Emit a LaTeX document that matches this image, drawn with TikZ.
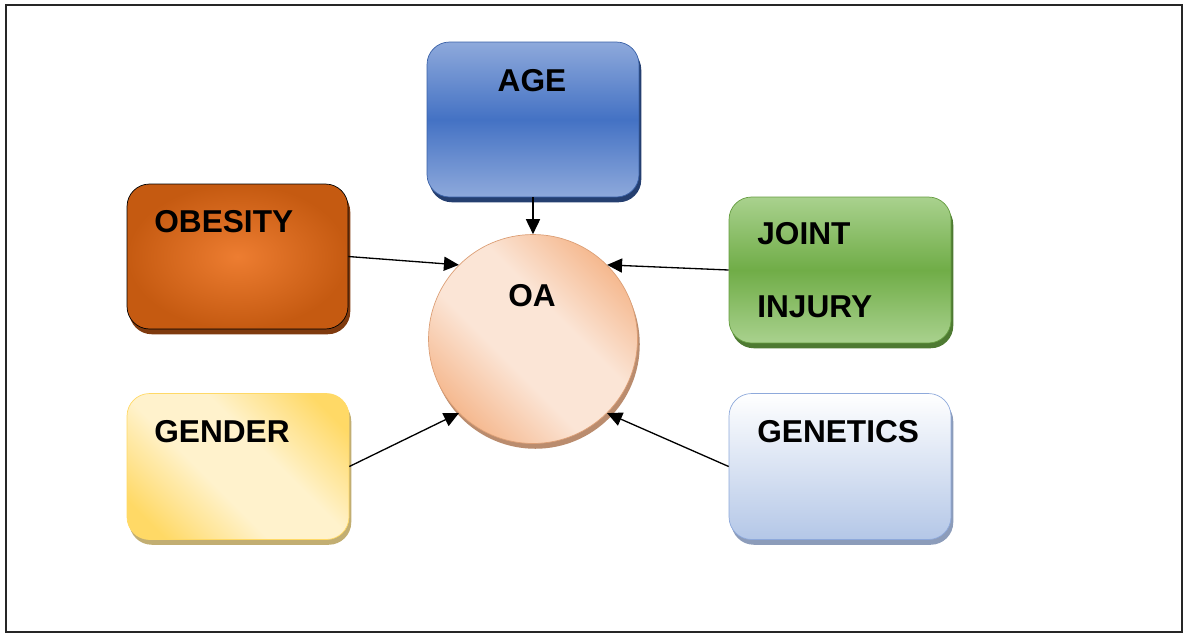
\documentclass[tikz,border=0pt]{standalone}
\usepackage{fontspec}
\setmainfont{Liberation Sans}
\usetikzlibrary{arrows.meta,shadows}

% colours of the factor boxes
\definecolor{ageMid}{HTML}{4472C4}
\definecolor{ageLight}{HTML}{8EA9DB}
\definecolor{ageShadow}{HTML}{253F70}
\definecolor{obeInner}{HTML}{ED7D31}
\definecolor{obeOuter}{HTML}{C55A11}
\definecolor{obeShadow}{HTML}{7F3A0E}
\definecolor{jointMid}{HTML}{70AD47}
\definecolor{jointLight}{HTML}{A9D18E}
\definecolor{jointShadow}{HTML}{4E7A32}
\definecolor{genYellow}{HTML}{FFD966}
\definecolor{genLight}{HTML}{FFF2CC}
\definecolor{genShadow}{HTML}{C2AE72}
\definecolor{geneBlue}{HTML}{B4C7E7}
\definecolor{geneShadow}{HTML}{8C9CBA}
\definecolor{oaDark}{HTML}{F4B183}
\definecolor{oaLight}{HTML}{FBE5D6}
\definecolor{oaShadow}{HTML}{BA8C6E}

% broad light band across the middle
\pgfdeclareverticalshading{oaband}{100bp}{color(0bp)=(oaDark); color(22bp)=(oaDark); color(42bp)=(oaLight); color(58bp)=(oaLight); color(78bp)=(oaDark); color(100bp)=(oaDark)}
\pgfdeclareverticalshading{genband}{100bp}{color(0bp)=(genYellow); color(22bp)=(genYellow); color(42bp)=(genLight); color(58bp)=(genLight); color(78bp)=(genYellow); color(100bp)=(genYellow)}

\tikzset{
  factor/.style={rounded corners=0.45cm, minimum width=4.44cm, minimum height=2.92cm, inner sep=0pt},
  lbl/.style={anchor=base west, inner sep=0pt, font=\fontsize{18}{21}\selectfont\bfseries},
  link/.style={-{Triangle[length=8.5pt,width=8pt]}, line width=0.75pt},
  shade/.style={drop shadow={shadow xshift=1.3pt, shadow yshift=-3pt, opacity=1, fill=#1}},
}

\begin{document}
\begin{tikzpicture}[x=0.02cm, y=-0.02cm]
\useasboundingbox (0,0) rectangle (1186,637);
\draw[line width=1pt, black!85] (6,5) rectangle (1182,632);

% the five factors
\node[factor, minimum width=4.24cm, minimum height=3.1cm, top color=ageLight, bottom color=ageLight, middle color=ageMid, draw=ageMid!85!black, shade=ageShadow] (age) at (533,119.5) {};
\node[factor, minimum width=4.42cm, minimum height=2.9cm, inner color=obeInner, outer color=obeOuter, draw=black, shade=obeShadow] (obesity) at (237.5,256.5) {};
\node[factor, top color=jointLight, bottom color=jointLight, middle color=jointMid, draw=jointMid!90!black, shade=jointShadow] (joint) at (840,270) {};
\node[factor, shading=genband, shading angle=-45, draw=genYellow, shade=genShadow] (gender) at (238,466.5) {};
\node[factor, top color=white, bottom color=geneBlue, draw=ageLight, shade=geneShadow] (genetics) at (840,466.5) {};

% the disease in the middle
\node[circle, minimum size=4.18cm, inner sep=0pt, shading=oaband, shading angle=-45, draw=oaDark!90!black, shade=oaShadow] (oa) at (533,339) {};

% labels
\node[lbl, anchor=base] (ageText) at (532,91) {AGE};
\node[lbl] (obesityText) at (154,232) {OBESITY};
\node[lbl] (jointText) at (757,244) {JOINT};
\node[lbl] (injuryText) at (757,317) {INJURY};
\node[lbl] (genderText) at (154,442) {GENDER};
\node[lbl] (geneticsText) at (757,442) {GENETICS};
\node[lbl, anchor=base] (oaText) at (532,306) {OA};

% arrows into OA
\draw[link] (age.south) -- (oa.north);
\draw[link] (obesity.east) -- (oa.135);
\draw[link] (joint.west) -- (oa.45);
\draw[link] (gender.east) -- (oa.225);
\draw[link] (genetics.west) -- (oa.-45);
\end{tikzpicture}
\end{document}
